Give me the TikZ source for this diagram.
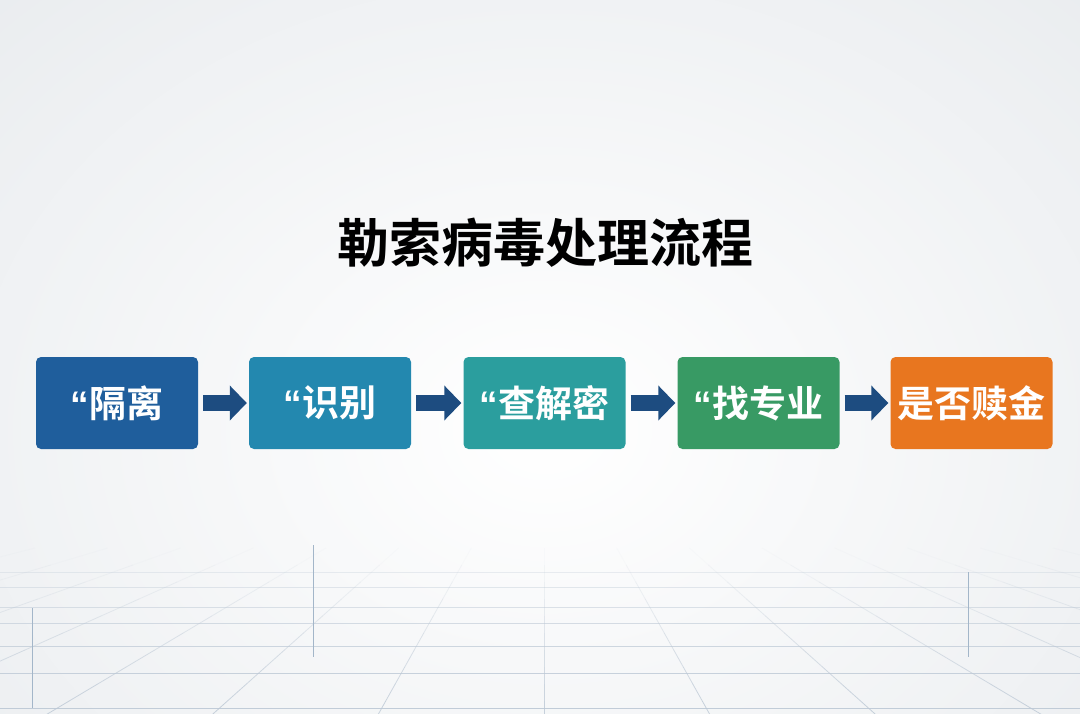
\documentclass[tikz,border=0pt]{standalone}
\usepackage{fontspec}
\usetikzlibrary{arrows.meta}
\newfontfamily\cjk{Noto Sans CJK SC}[BoldFont={Noto Sans CJK SC Bold}]
\newfontfamily\latinb{Liberation Sans}
\definecolor{bgedge}{HTML}{E0E4E8}
\definecolor{gridc}{HTML}{BCC8D5}
\definecolor{stickc}{HTML}{A3B6C9}
\definecolor{cA}{HTML}{1F5E9C}
\definecolor{cB}{HTML}{2388AF}
\definecolor{cC}{HTML}{2B9E9E}
\definecolor{cD}{HTML}{389A64}
\definecolor{cE}{HTML}{E8761F}
\definecolor{arrc}{HTML}{1D4C80}
\tikzset{
  stepbox/.style={rounded corners=5pt, minimum width=162pt, minimum height=92pt,
    inner sep=0pt, text=white, font=\cjk\bfseries\fontsize{37}{40}\selectfont},
  flowarrow/.style={draw=arrc, line width=16pt,
    -{Triangle[width=34pt,length=17pt]}, shorten <=5pt, shorten >=2pt},
  gridline/.style={draw=gridc, line width=0.8pt},
  stick/.style={draw=stickc, line width=1pt},
}
\newcommand{\myquote}{{\latinb\bfseries “}}
\begin{document}
\begin{tikzpicture}[x=1pt,y=-1pt]
\useasboundingbox (0,0) rectangle (1080,713);
\fill[bgedge] (0,0) rectangle (1080,713);
\begin{scope}
\clip (0,0) rectangle (1080,713);
\shade[inner color=white, outer color=bgedge] (545,430) ellipse (1150 and 900);
% perspective grid, fading towards the top
\foreach \n in {-7,...,7} {
  \foreach \k in {0,...,9} {
    \pgfmathsetmacro{\ya}{548+\k*17}
    \pgfmathsetmacro{\yb}{\ya+17}
    \pgfmathsetmacro{\op}{0.05+\k*0.085}
    \pgfmathsetmacro{\xa}{544+\n*(165/295)*(\ya-418)}
    \pgfmathsetmacro{\xb}{544+\n*(165/295)*(\yb-418)}
    \draw[gridline, opacity=\op] (\xa,\ya) -- (\xb,\yb);
  }
}
\foreach \yy/\op in {572/0.3,587/0.4,607/0.5,623/0.6,646/0.7,673/0.8,708/0.9} {
  \draw[gridline, opacity=\op] (0,\yy) -- (1080,\yy);
}
\draw[stick] (313,545) -- (313,657);
\draw[stick] (32,608) -- (32,708);
\draw[stick] (968,572) -- (968,657);
\end{scope}
% title
\node (title) at (545,243) {\cjk\bfseries\fontsize{52}{56}\selectfont 勒索病毒处理流程};
% boxes
\node[stepbox, fill=cA] (b1) at (117,403) {\myquote 隔离};
\node[stepbox, fill=cB] (b2) at (330,403) {\myquote 识别};
\node[stepbox, fill=cC] (b3) at (544.5,403) {\myquote 查解密};
\node[stepbox, fill=cD] (b4) at (758.5,403) {\myquote 找专业};
\node[stepbox, fill=cE] (b5) at (971.5,403) {是否赎金};
\draw[flowarrow] (b1) -- (b2);
\draw[flowarrow] (b2) -- (b3);
\draw[flowarrow] (b3) -- (b4);
\draw[flowarrow] (b4) -- (b5);
\end{tikzpicture}
\end{document}
